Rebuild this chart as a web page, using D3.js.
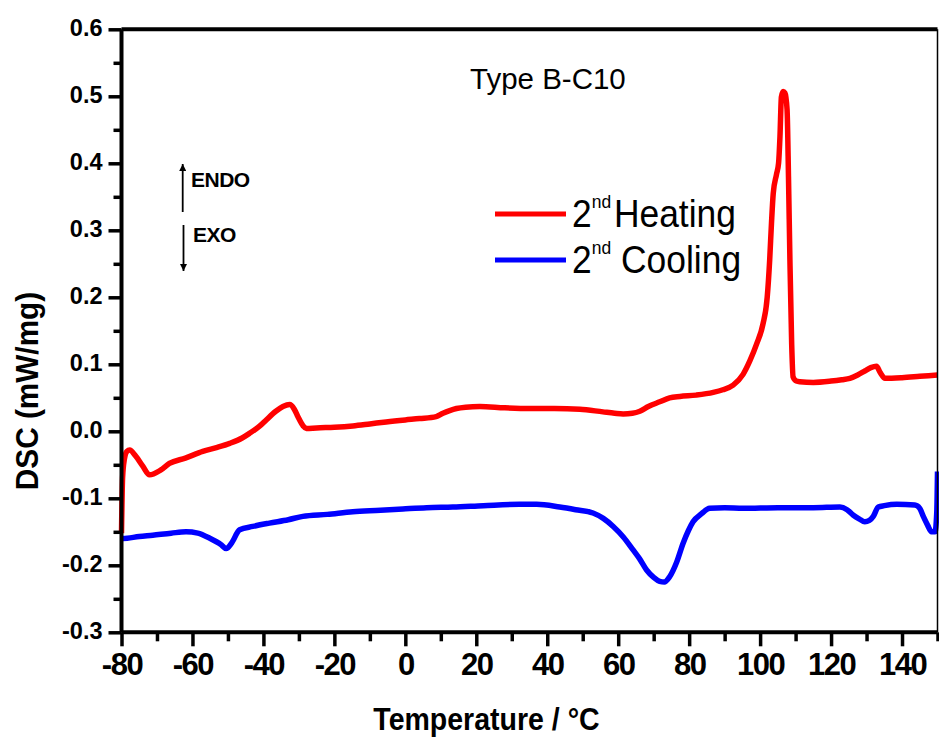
<!DOCTYPE html>
<html>
<head>
<meta charset="utf-8">
<script src="https://cdn.jsdelivr.net/npm/d3@7"></script>
<style>
  html, body { margin: 0; padding: 0; background: #fff; }
  svg { display: block; font-family: Arial, "Liberation Sans", sans-serif; }
</style>
</head>
<body>
<svg id="chart" width="939" height="738"></svg>
<script>
// ---------- data ----------
const xTicks = [-80, -60, -40, -20, 0, 20, 40, 60, 80, 100, 120, 140];
const xMinorTicks = [-70, -50, -30, -10, 10, 30, 50, 70, 90, 110, 130, 150];
const yTicks = [-0.3, -0.2, -0.1, 0.0, 0.1, 0.2, 0.3, 0.4, 0.5, 0.6];
const yMinorTicks = [-0.25, -0.15, -0.05, 0.05, 0.15, 0.25, 0.35, 0.45, 0.55];

// 2nd heating: [temperature °C, DSC mW/mg]
const heating = [
  [-80, -0.152], [-79.7, -0.07], [-79.2, -0.042], [-78.5, -0.03], [-77.7, -0.028],
  [-76, -0.037], [-74, -0.052], [-72.1, -0.065], [-69, -0.058], [-66.5, -0.048],
  [-62, -0.04], [-57.1, -0.03], [-53, -0.024], [-49.5, -0.018], [-46, -0.01],
  [-43.9, -0.003], [-41, 0.008], [-39.2, 0.017], [-36.5, 0.03], [-34.5, 0.037],
  [-32.6, 0.04], [-31.3, 0.033], [-30.3, 0.022], [-28.8, 0.008], [-27.9, 0.004],
  [-25, 0.005], [-20, 0.006], [-14.8, 0.008], [-10, 0.011], [-5.4, 0.014],
  [0, 0.017], [4, 0.019], [8.7, 0.022], [10.6, 0.027], [12.5, 0.031],
  [14.4, 0.034], [17, 0.036], [21, 0.037], [28, 0.035], [35.1, 0.034],
  [42, 0.034], [49.2, 0.033], [55.7, 0.029], [59, 0.027], [61.4, 0.026],
  [64, 0.027], [66.1, 0.03], [68.5, 0.037], [71.7, 0.044], [74.5, 0.05],
  [77.4, 0.052], [82, 0.054], [86.8, 0.058], [89.5, 0.062], [92.4, 0.069],
  [95.2, 0.085], [97.1, 0.105], [99, 0.13], [100.8, 0.16], [102, 0.2],
  [102.7, 0.256], [103.2, 0.31], [103.7, 0.355], [104.6, 0.383], [105.2, 0.4],
  [105.6, 0.44], [106.0, 0.499], [106.5, 0.507], [107.0, 0.505], [107.6, 0.48],
  [108.0, 0.38], [108.4, 0.256], [108.9, 0.13], [109.3, 0.081], [110.2, 0.075],
  [111.2, 0.074], [115, 0.073], [120, 0.075], [123, 0.077], [125.3, 0.079],
  [127.5, 0.084], [129.5, 0.09], [131.2, 0.095], [132.8, 0.097], [133.8, 0.088],
  [135.2, 0.079], [140, 0.08], [145, 0.082], [150, 0.084]
];

// 2nd cooling: [temperature °C, DSC mW/mg]
const cooling = [
  [-80, -0.16], [-79.6, -0.16], [-75, -0.157], [-71.2, -0.155], [-66, -0.152],
  [-61.8, -0.15], [-58.5, -0.152], [-55, -0.16], [-52, -0.169], [-50.5, -0.175],
  [-49, -0.167], [-46.7, -0.147], [-43, -0.142], [-38.3, -0.137], [-33, -0.132],
  [-28.9, -0.127], [-22, -0.124], [-14.8, -0.12], [-7, -0.118], [-0.7, -0.116],
  [6, -0.114], [13.4, -0.113], [22, -0.111], [32.2, -0.109], [37, -0.109],
  [43.5, -0.113], [48, -0.117], [52.9, -0.122], [55.8, -0.13], [58.6, -0.142],
  [61.5, -0.158], [64.2, -0.177], [66, -0.19], [68, -0.207], [70, -0.218],
  [71.7, -0.224], [73, -0.225], [74.5, -0.217], [76.5, -0.195], [78.3, -0.167],
  [79.8, -0.148], [81.1, -0.135], [83.5, -0.123], [85.8, -0.115], [90, -0.114],
  [95.2, -0.115], [105, -0.114], [115, -0.114], [122.5, -0.113], [124.5, -0.117],
  [126.2, -0.125], [128, -0.131], [129.5, -0.135], [130.8, -0.133], [131.9, -0.127],
  [133.3, -0.113], [135, -0.111], [138.5, -0.109], [143.6, -0.11], [145, -0.115],
  [146, -0.127], [147.2, -0.14], [148.3, -0.15], [149.3, -0.15], [149.8, -0.12],
  [150, -0.06]
];

const seriesNames = ["Heating", "Cooling"];
const seriesColors = ["#ff0000", "#0000ff"];

// ---------- layout ----------
const svg = d3.select("#chart");
const L = 121.5, R = 937.5, T = 29.3, B = 632.3;
const x = d3.scaleLinear().domain([-80, 150]).range([L, R]);
const y = d3.scaleLinear().domain([-0.3, 0.6]).range([B, T]);

// curves
const line = d3.line().x(d => x(d[0])).y(d => y(d[1])).curve(d3.curveMonotoneX);
svg.append("path").datum(cooling)
  .attr("d", line).attr("fill", "none")
  .attr("stroke", seriesColors[1]).attr("stroke-width", 5.5).attr("stroke-linejoin", "round");
svg.append("path").datum(heating)
  .attr("d", line).attr("fill", "none")
  .attr("stroke", seriesColors[0]).attr("stroke-width", 5.5).attr("stroke-linejoin", "round");

// frame top/right
svg.append("line").attr("x1", L).attr("x2", R).attr("y1", T).attr("y2", T)
  .attr("stroke", "#000").attr("stroke-width", 4);
svg.append("line").attr("x1", R).attr("x2", R).attr("y1", T).attr("y2", B)
  .attr("stroke", "#000").attr("stroke-width", 1.5);

// x axis
const gx = svg.append("g").attr("transform", `translate(0,${B})`);
gx.call(d3.axisBottom(x).tickValues(xTicks).tickSize(14).tickPadding(7)
  .tickFormat(d => String(d)));
const gxm = svg.append("g").attr("transform", `translate(0,${B})`);
gxm.call(d3.axisBottom(x).tickValues(xMinorTicks).tickSize(9).tickFormat(""));
gxm.select(".domain").remove();

// y axis
const gy = svg.append("g").attr("transform", `translate(${L},0)`);
gy.call(d3.axisLeft(y).tickValues(yTicks).tickSize(13).tickPadding(6)
  .tickFormat(d => d.toFixed(1)));
const gym = svg.append("g").attr("transform", `translate(${L},0)`);
gym.call(d3.axisLeft(y).tickValues(yMinorTicks).tickSize(8).tickFormat(""));
gym.select(".domain").remove();

svg.selectAll(".domain").attr("stroke", "#000").attr("stroke-width", 4);
svg.selectAll(".tick line").attr("stroke", "#000").attr("stroke-width", 3.5);
gx.selectAll(".domain").attr("d", `M${L},0H${R}`);
gy.selectAll(".domain").attr("d", `M0,${B}V${T}`);

gx.selectAll("text").attr("font-size", 31).attr("font-weight", "bold")
  .attr("letter-spacing", "-1.5px").attr("fill", "#000")
  .attr("font-family", "Arial, 'Liberation Sans', sans-serif");
gy.selectAll("text").attr("font-size", 23.5).attr("font-weight", "bold")
  .attr("fill", "#000").attr("dy", "0.26em")
  .attr("font-family", "Arial, 'Liberation Sans', sans-serif");

// axis titles
svg.append("text")
  .attr("transform", "translate(486.5,730) scale(0.92,1)")
  .attr("text-anchor", "middle").attr("font-size", 31).attr("font-weight", "bold")
  .text("Temperature / °C");
svg.append("text")
  .attr("transform", "translate(38,391) rotate(-90) scale(0.96,1)")
  .attr("text-anchor", "middle").attr("font-size", 31).attr("font-weight", "bold")
  .text("DSC (mW/mg)");

// annotation
svg.append("text").attr("x", 470).attr("y", 89)
  .attr("font-size", 29.5).text("Type B-C10");

// ENDO / EXO arrows
svg.append("defs").append("marker")
  .attr("id", "arr").attr("viewBox", "0 0 10 10").attr("refX", 10).attr("refY", 5)
  .attr("markerWidth", 9).attr("markerHeight", 7).attr("markerUnits", "userSpaceOnUse")
  .attr("orient", "auto")
  .append("path").attr("d", "M0,0L10,5L0,10Z").attr("fill", "#000");
svg.append("line").attr("x1", 182.7).attr("x2", 182.7).attr("y1", 212).attr("y2", 164)
  .attr("stroke", "#000").attr("stroke-width", 1.8).attr("marker-end", "url(#arr)");
svg.append("line").attr("x1", 183.5).attr("x2", 183.5).attr("y1", 225).attr("y2", 271)
  .attr("stroke", "#000").attr("stroke-width", 1.8).attr("marker-end", "url(#arr)");
svg.append("text").attr("x", 191).attr("y", 187).attr("font-size", 21)
  .attr("font-weight", "bold").attr("letter-spacing", "-0.5px").text("ENDO");
svg.append("text").attr("x", 193).attr("y", 242).attr("font-size", 21)
  .attr("font-weight", "bold").attr("letter-spacing", "-0.5px").text("EXO");

// legend
const legY = [214, 260];
seriesNames.forEach((name, i) => {
  svg.append("line").attr("x1", 495).attr("x2", 566).attr("y1", legY[i]).attr("y2", legY[i])
    .attr("stroke", seriesColors[i]).attr("stroke-width", 5);
  const t = svg.append("text")
    .attr("transform", `translate(572,${legY[i] + 13}) scale(0.92,1)`)
    .attr("font-size", 38.5);
  t.append("tspan").text("2");
  t.append("tspan").attr("font-size", 19).attr("dy", -19).text("nd");
  t.append("tspan").attr("dy", 19).attr("dx", i === 0 ? 3 : 0)
    .text(i === 0 ? name : "\u00a0" + name);
});
</script>
</body>
</html>
